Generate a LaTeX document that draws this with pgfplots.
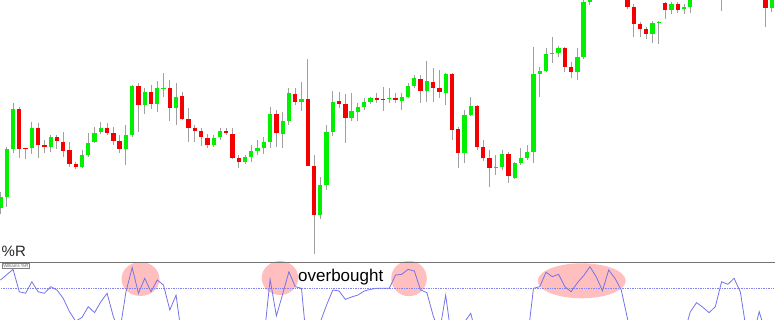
\documentclass[border=0pt]{standalone}
\usepackage{pgfplots}
\pgfplotsset{compat=1.18}
\usepackage{pgfplotstable}
\usepackage{fontspec}
\setmainfont{Liberation Sans}
\definecolor{bull}{RGB}{0,240,0}
\definecolor{bear}{RGB}{245,0,0}
\definecolor{wickc}{RGB}{160,160,160}
\definecolor{wprc}{RGB}{115,115,235}
\definecolor{lvlc}{RGB}{130,130,245}

\pgfplotstableread{
k o h l c
0 54 70 48 65
1 65 115 55 113
2 113 159 109 153
3 153 155 104 113
4 114 114 103 113
5 114 140 108 134
6 134 139 104 117
7 117 122 109 115
8 115 127 110 125
9 125 127 113 121
10 120 130 105 111
11 112 120 95 98
12 98 100 93 95
13 95 112 94 107
14 107 129 105 119
15 120 135 119 129
16 130 140 128 134
17 134 139 127 129
18 129 135 117 121
19 121 127 109 113
20 113 137 97 127
21 127 177 125 176
22 176 179 130 157
23 157 174 148 170
24 170 177 153 158
25 158 181 150 174
26 173 189 165 174
27 174 182 141 154
28 154 179 137 165
29 166 170 142 143
30 143 154 120 134
31 134 137 120 131
32 131 134 116 125
33 124 128 114 117
34 117 127 115 124
35 125 134 122 131
36 131 134 127 129
37 128 134 103 104
38 104 107 94 100
39 100 107 98 105
40 105 117 100 111
41 111 122 107 114
42 114 125 108 120
43 120 155 114 148
44 148 152 115 129
45 128 150 114 141
46 141 174 137 169
47 168 174 157 160
48 160 180 151 163
49 163 203 96 96
50 96 107 8 47
51 47 85 43 77
52 77 137 72 130
53 130 171 126 160
54 161 170 154 158
55 158 168 119 144
56 144 169 141 151
57 150 159 141 155
58 155 164 152 160
59 160 165 158 164
60 164 169 159 162
61 163 175 151 162
62 163 174 159 164
63 164 169 159 162
64 161 169 152 165
65 165 179 164 176
66 176 187 174 184
67 183 187 159 171
68 171 201 160 181
69 180 194 160 174
70 174 192 164 170
71 169 189 157 188
72 188 189 122 132
73 133 135 94 109
74 109 152 99 147
75 147 165 146 156
76 156 157 112 115
77 115 122 101 104
78 104 112 75 94
79 94 107 87 95
80 95 112 92 108
81 108 110 79 86
82 84 100 83 99
83 99 114 97 104
84 104 117 102 110
85 110 215 99 188
86 188 195 165 191
87 191 214 190 208
88 208 225 199 209
89 209 216 205 214
90 214 215 190 195
91 195 200 184 190
92 190 214 182 205
93 205 268 203 260
94 260 275 257 270
100 270 275 253 255
101 255 258 225 238
102 238 240 225 233
103 233 235 223 228
104 228 241 219 239
105 239 241 218 240
106 259 260 243 252
107 252 260 248 258
108 258 260 249 252
109 253 258 248 255
110 255 270 249 265
115 268 280 251 275
122 270 275 235 254
123 254 272 250 268
}\candles

\pgfplotstableread{
k r
0 -13.4
1 -9.2
2 -5.0
3 -22.7
4 -23.9
5 -14.8
6 -22.7
7 -23.9
8 -18.7
9 -21.3
10 -27.9
11 -38.4
12 -46
13 -42.9
14 -34.5
15 -39.2
16 -30.6
17 -23.9
18 -42.4
19 -55
20 -22.9
21 -3.6
22 -23.9
23 -12.1
24 -22.7
25 -13.4
26 -17.4
27 -37.1
28 -25.3
29 -62
30 -75
31 -78
32 -84
33 -90
34 -86
35 -80
36 -79
37 -92
38 -95
39 -88
40 -80
41 -74
42 -60
43 -12.9
44 -41.8
45 -24.5
46 -6.9
47 -18.7
48 -20.0
49 -72
50 -62
51 -46.6
52 -33.2
53 -21.3
54 -22.1
55 -28.7
56 -26.8
57 -25.3
58 -22.1
59 -20.8
60 -20.0
61 -20.0
62 -20.0
63 -9.5
64 -8.9
65 -5.0
66 -6.3
67 -21.3
68 -23.4
69 -41.5
70 -55
71 -25.3
72 -62
73 -75
74 -46.6
75 -39.7
76 -60
77 -78
78 -90
79 -88
80 -84
81 -92
82 -86
83 -74
84 -62
85 -20.0
86 -18.7
87 -7.3
88 -10.8
89 -8.9
90 -18.7
91 -22.7
92 -15.6
93 -10.0
94 -2.9
95 -10.8
96 -21.9
97 -5.5
98 -12.1
99 -21.3
100 -44
101 -65
102 -75
103 -82
104 -78
105 -80
106 -72
107 -70
108 -68
109 -56
110 -38.7
111 -31.3
112 -34.9
113 -39.2
114 -34.5
115 -14.8
116 -16.8
117 -12.1
118 -23.0
119 -55
120 -58
121 -38.4
122 -55
123 -60
}\wprtable

\begin{document}
\begin{tikzpicture}[x=1pt,y=1pt]
\useasboundingbox (0,0) rectangle (775,320);
\begin{axis}[at={(0,58)}, anchor=south west, scale only axis,
  width=775pt, height=262pt, xmin=-0.08, xmax=123.52, ymin=0, ymax=262,
  hide axis]
% wicks
\addplot[draw=none, mark=none,
  error bars/.cd, y dir=plus, y explicit, error mark=none,
  error bar style={draw=wickc, line width=0.9pt}]
  table[x=k, y=l, y error plus expr={\thisrow{h}-\thisrow{l}}] {\candles};
% bullish bodies
\addplot[draw=none, mark=none,
  restrict expr to domain={\thisrow{c}-\thisrow{o}}{0.5:1000},
  error bars/.cd, y dir=plus, y explicit, error mark=none,
  error bar style={draw=bull, line width=4.3pt}]
  table[x=k, y=o, y error plus expr={\thisrow{c}-\thisrow{o}}] {\candles};
% bearish bodies
\addplot[draw=none, mark=none,
  restrict expr to domain={\thisrow{o}-\thisrow{c}}{0.5:1000},
  error bars/.cd, y dir=plus, y explicit, error mark=none,
  error bar style={draw=bear, line width=4.3pt}]
  table[x=k, y=c, y error plus expr={\thisrow{o}-\thisrow{c}}] {\candles};
\end{axis}

% overbought highlights
\fill[red, fill opacity=0.25] (140.5,41) ellipse [x radius=19, y radius=17];
\fill[red, fill opacity=0.25] (280,42) ellipse [x radius=18.3, y radius=17];
\fill[red, fill opacity=0.25] (409,41.5) ellipse [x radius=17.8, y radius=17.7];
\fill[red, fill opacity=0.25] (581.7,39.2) ellipse [x radius=44, y radius=17.5];

\begin{axis}[at={(0,0)}, anchor=south west, scale only axis,
  width=775pt, height=58pt, xmin=-0.08, xmax=123.52, ymin=-45, ymax=0.8,
  hide axis]
\draw[lvlc, densely dotted, line width=0.7pt] (axis cs:-1,-20) -- (axis cs:125,-20);
\addplot[wprc, line width=0.8pt, mark=none] table[x=k, y=r] {\wprtable};
\end{axis}

\draw[black!55, line width=0.8pt] (0,57.3) -- (775,57.3);
\node[anchor=north east, draw=black!50, fill=white, inner sep=0.6pt,
  font=\fontsize{4.5}{5}\selectfont, text=black!60] at (29.3,56.7) {Williams \%R};
\node[anchor=base west, inner sep=0, font=\fontsize{15}{18}\selectfont, text=black!85] at (1.5,63) {\%R};
\node[anchor=base west, inner sep=0, font=\fontsize{17}{20}\selectfont] at (298,38.3) {overbought};
\end{tikzpicture}
\end{document}
